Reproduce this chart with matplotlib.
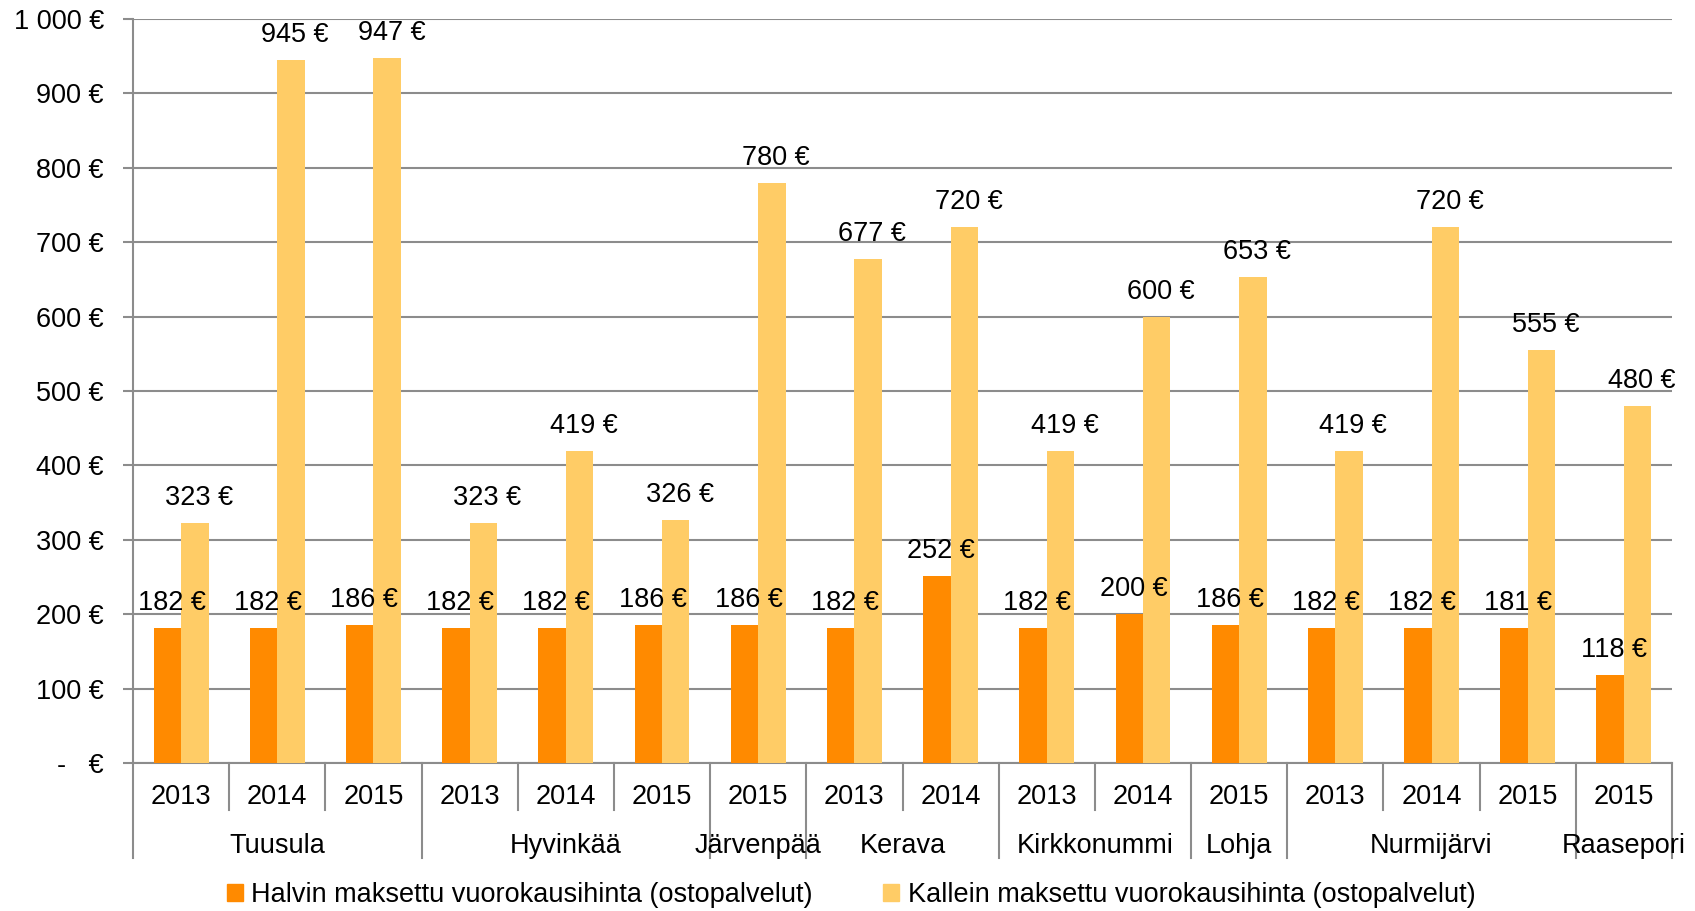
import matplotlib
matplotlib.use('Agg')
import matplotlib.pyplot as plt
from matplotlib.patches import Rectangle

plt.rcParams['font.family'] = ['Liberation Sans', 'DejaVu Sans']

# Datos
vuodet = ['2013', '2014', '2015', '2013', '2014', '2015', '2015', '2013', '2014',
          '2013', '2014', '2015', '2013', '2014', '2015', '2015']
kunnat = ['Tuusula', 'Hyvinkää', 'Järvenpää', 'Kerava', 'Kirkkonummi', 'Lohja', 'Nurmijärvi', 'Raasepori']
kunta_koko = [3, 3, 1, 2, 2, 1, 3, 1]
halvin = [182, 182, 186, 182, 182, 186, 186, 182, 252, 182, 200, 186, 182, 182, 181, 118]
kallein = [323, 945, 947, 323, 419, 326, 780, 677, 720, 419, 600, 653, 419, 720, 555, 480]
y_ticks = [0, 100, 200, 300, 400, 500, 600, 700, 800, 900, 1000]
y_labels = ['-   €', '100 €', '200 €', '300 €', '400 €', '500 €', '600 €', '700 €', '800 €', '900 €', '1 000 €']
serie_nimet = ['Halvin maksettu vuorokausihinta (ostopalvelut)',
               'Kallein maksettu vuorokausihinta (ostopalvelut)']

C_OSC = '#FF8A00'
C_CLA = '#FFCC66'
GRIS = '#8C8C8C'
FS = 19.5

fig = plt.figure(figsize=(16.95, 9.11), dpi=100)
ax = fig.add_axes([133/1695, 1 - 763/911, (1672-133)/1695, (763-19)/911])

x = list(range(len(vuodet)))
w = 0.285
b1 = ax.bar([i - w/2 for i in x], halvin, width=w, color=C_OSC, zorder=3)
b2 = ax.bar([i + w/2 for i in x], kallein, width=w, color=C_CLA, zorder=3)

for barras, vals in [(b1, halvin), (b2, kallein)]:
    for b, v in zip(barras, vals):
        ax.annotate(f'{v} €', (b.get_x() + b.get_width()/2, v), xytext=(3, 18),
                    textcoords='offset points', ha='center', va='center',
                    fontsize=FS, zorder=5)

ax.set_xlim(-0.5, len(vuodet) - 0.5)
ax.set_ylim(0, 1000)
ax.set_yticks(y_ticks)
ax.set_yticklabels(y_labels, fontsize=FS)
ax.tick_params(axis='y', length=7, color=GRIS, width=1.5, pad=14)
ax.set_xticks([])
ax.grid(axis='y', color=GRIS, linewidth=1.5, zorder=0)
for s in ['top', 'right']:
    ax.spines[s].set_visible(False)
for s in ['left', 'bottom']:
    ax.spines[s].set_color(GRIS)
    ax.spines[s].set_linewidth(1.5)

# Eje x de dos niveles
tr = ax.get_xaxis_transform()
y_anio = -0.046
y_kunta = -0.111
y_corto = -0.0632
y_largo = -0.1277

for i, v in enumerate(vuodet):
    ax.text(i, y_anio, v, transform=tr, ha='center', va='center', fontsize=FS)

bordes = [0]
for k in kunta_koko:
    bordes.append(bordes[-1] + k)

for i in range(len(vuodet) + 1):
    y_fin = y_largo if i in bordes else y_corto
    ax.plot([i - 0.5, i - 0.5], [0, y_fin], transform=tr, color=GRIS,
            linewidth=1.5, clip_on=False)

for k, a, b in zip(kunnat, bordes[:-1], bordes[1:]):
    ax.text((a + b - 1) / 2, y_kunta, k, transform=tr, ha='center', va='center', fontsize=FS)

handles = [Rectangle((0, 0), 1, 1, color=C_OSC), Rectangle((0, 0), 1, 1, color=C_CLA)]
fig.legend(handles, serie_nimet, loc='center', bbox_to_anchor=(851/1695, 1 - 895/911),
           ncol=2, frameon=False, fontsize=FS, handlelength=0.6, handleheight=0.6,
           handletextpad=0.3, columnspacing=2.6)

fig.savefig('out.png', dpi=100)
